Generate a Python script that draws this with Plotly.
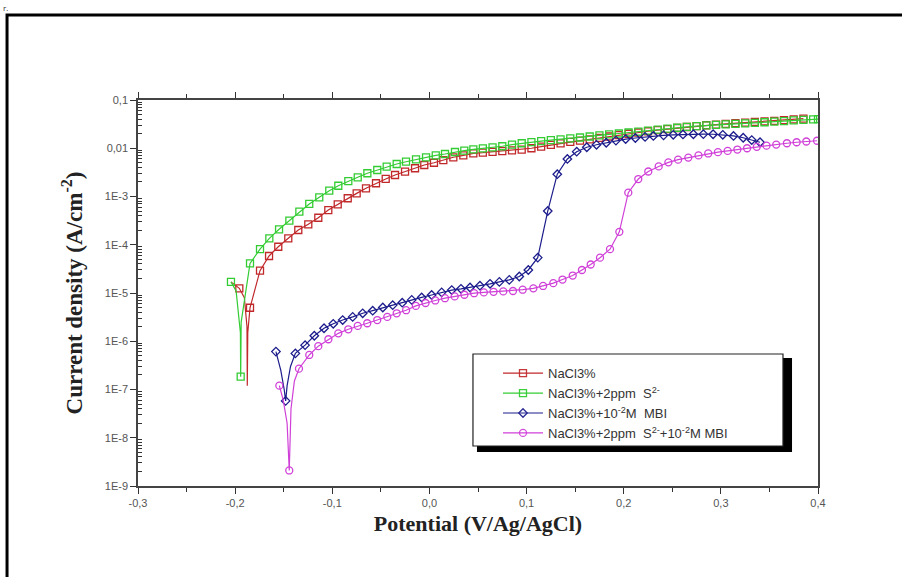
import plotly.graph_objects as go

# ---------------- data ----------------
nacl_E = [-0.2043, -0.1957, -0.1905, -0.1878, -0.1875, -0.1870, -0.1847, -0.1744, -0.1651, -0.1556,
          -0.1453, -0.135, -0.1247, -0.1144, -0.1041, -0.0944, -0.0841, -0.0749, -0.0653, -0.055,
          -0.045, -0.0354, -0.0251, -0.0148, -0.0053, 0.0047, 0.0143, 0.0246, 0.0349, 0.0452,
          0.055, 0.065, 0.075, 0.085, 0.095, 0.105, 0.115, 0.125, 0.135, 0.145, 0.155, 0.165,
          0.175, 0.185, 0.195, 0.205, 0.215, 0.225, 0.235, 0.245, 0.255, 0.265, 0.275, 0.285,
          0.295, 0.305, 0.315, 0.325, 0.335, 0.345, 0.355, 0.365, 0.375, 0.385]
nacl_I = [1.7e-5, 1.25e-5, 8e-6, 2e-6, 1.2e-7, 1.5e-6, 4.95e-6, 2.9e-5, 5.85e-5, 9.1e-5,
          1.36e-4, 2.02e-4, 2.65e-4, 3.63e-4, 5.24e-4, 6.9e-4, 9.2e-4, 1.16e-3, 1.48e-3, 1.88e-3,
          2.31e-3, 2.79e-3, 3.27e-3, 3.85e-3, 4.5e-3, 5.0e-3, 5.7e-3, 6.5e-3, 7.14e-3, 7.85e-3,
          8.1e-3, 8.4e-3, 8.7e-3, 9.0e-3, 9.4e-3, 1.0e-2, 1.08e-2, 1.17e-2, 1.26e-2, 1.35e-2, 1.44e-2, 1.53e-2,
          1.64e-2, 1.75e-2, 1.87e-2, 2.0e-2, 2.12e-2, 2.25e-2, 2.38e-2, 2.5e-2, 2.63e-2, 2.76e-2, 2.88e-2, 3.0e-2,
          3.1e-2, 3.2e-2, 3.3e-2, 3.4e-2, 3.5e-2, 3.6e-2, 3.7e-2, 3.82e-2, 3.95e-2, 4.1e-2]
nacl_show = [False, True, False, False, False, False] + [True] * 58

s_E = [-0.2043, -0.199, -0.1946, -0.1943, -0.1938, -0.1847, -0.1744, -0.1648, -0.1548, -0.1442,
       -0.1339, -0.1237, -0.1134, -0.1031, -0.0938, -0.0835, -0.0738, -0.0639, -0.0537, -0.044,
       -0.0337, -0.0241, -0.0138, -0.0035, 0.0065, 0.016, 0.0263, 0.0359, 0.0452,
       0.055, 0.065, 0.075, 0.085, 0.095, 0.105, 0.115, 0.125, 0.135, 0.145, 0.155, 0.165,
       0.175, 0.185, 0.195, 0.205, 0.215, 0.225, 0.235, 0.245, 0.255, 0.265, 0.275, 0.285,
       0.295, 0.305, 0.315, 0.325, 0.335, 0.345, 0.355, 0.365, 0.375, 0.385, 0.395, 0.40]
s_I = [1.7e-5, 1.1e-5, 1.5e-6, 1.84e-7, 2.5e-6, 4.1e-5, 8.1e-5, 1.36e-4, 2.09e-4, 3.16e-4,
       4.84e-4, 7.0e-4, 9.6e-4, 1.32e-3, 1.67e-3, 2.09e-3, 2.5e-3, 3.03e-3, 3.54e-3, 4.15e-3,
       4.72e-3, 5.26e-3, 5.9e-3, 6.5e-3, 7.14e-3, 7.6e-3, 8.36e-3, 8.9e-3, 9.5e-3,
       9.9e-3, 1.04e-2, 1.1e-2, 1.19e-2, 1.27e-2, 1.34e-2, 1.41e-2, 1.47e-2, 1.53e-2, 1.6e-2, 1.67e-2, 1.75e-2,
       1.84e-2, 1.93e-2, 2.02e-2, 2.12e-2, 2.22e-2, 2.32e-2, 2.44e-2, 2.55e-2, 2.66e-2, 2.77e-2, 2.87e-2, 2.97e-2,
       3.05e-2, 3.13e-2, 3.2e-2, 3.28e-2, 3.37e-2, 3.46e-2, 3.56e-2, 3.66e-2, 3.77e-2, 3.88e-2, 3.98e-2, 4.0e-2]
s_show = [True, False, False, True, False] + [True] * 60

mbi_E = [-0.158, -0.153, -0.1495, -0.148, -0.1465, -0.143, -0.138, -0.128, -0.1185, -0.1085,
         -0.099, -0.0893, -0.079, -0.0687, -0.0584, -0.048, -0.0378, -0.028, -0.0182, -0.008,
         0.0023, 0.0126, 0.023, 0.0325, 0.0418, 0.052, 0.0624, 0.072, 0.0822, 0.0925,
         0.1018, 0.1115, 0.1218, 0.1316, 0.142, 0.1516, 0.162, 0.172, 0.182, 0.192, 0.202,
         0.212, 0.222, 0.2305, 0.241, 0.251, 0.261, 0.2717, 0.282, 0.292, 0.302, 0.313,
         0.323, 0.3318, 0.3403]
mbi_I = [6.1e-7, 2.5e-7, 1.0e-7, 5.8e-8, 1.2e-7, 3.0e-7, 5.6e-7, 8.3e-7, 1.3e-6, 1.86e-6,
         2.3e-6, 2.75e-6, 3.2e-6, 3.8e-6, 4.3e-6, 5.0e-6, 5.6e-6, 6.3e-6, 7.2e-6, 8.1e-6,
         9.1e-6, 1.03e-5, 1.15e-5, 1.22e-5, 1.3e-5, 1.42e-5, 1.55e-5, 1.7e-5, 1.87e-5, 2.2e-5,
         3.0e-5, 5.4e-5, 5.0e-4, 2.9e-3, 6.0e-3, 8.5e-3, 1.05e-2, 1.18e-2, 1.3e-2, 1.44e-2, 1.55e-2,
         1.63e-2, 1.72e-2, 1.8e-2, 1.85e-2, 1.9e-2, 1.93e-2, 1.95e-2, 1.96e-2, 1.95e-2, 1.9e-2, 1.8e-2,
         1.65e-2, 1.48e-2, 1.33e-2]
mbi_show = [True, False, False, True, False, False] + [True] * 49

smbi_E = [-0.1545, -0.1505, -0.1465, -0.1443, -0.1425, -0.139, -0.1343, -0.1237, -0.1144, -0.104,
          -0.0938, -0.0835, -0.0738, -0.064, -0.0537, -0.0434, -0.0337, -0.024, -0.014, -0.004,
          0.006, 0.016, 0.026, 0.036, 0.046, 0.056, 0.066, 0.076, 0.086, 0.096, 0.107, 0.117,
          0.1275, 0.137, 0.1475, 0.157, 0.166, 0.1756, 0.1859, 0.1955, 0.2047, 0.215, 0.2253,
          0.236, 0.246, 0.256, 0.2665, 0.277, 0.287, 0.297, 0.307, 0.317, 0.327, 0.337, 0.347,
          0.357, 0.368, 0.378, 0.388, 0.399]
smbi_I = [1.2e-7, 6e-8, 2e-8, 2.1e-9, 4e-8, 1.5e-7, 2.7e-7, 5.2e-7, 7.9e-7, 1.1e-6,
          1.46e-6, 1.77e-6, 2.08e-6, 2.36e-6, 2.75e-6, 3.2e-6, 3.8e-6, 4.4e-6, 5.4e-6, 6.2e-6,
          7.0e-6, 7.8e-6, 8.5e-6, 9.2e-6, 9.9e-6, 1.03e-5, 1.06e-5, 1.08e-5, 1.1e-5, 1.17e-5, 1.25e-5, 1.4e-5,
          1.6e-5, 1.9e-5, 2.3e-5, 3.0e-5, 3.9e-5, 5.4e-5, 8.1e-5, 1.85e-4, 1.2e-3, 2.3e-3, 3.3e-3,
          4.2e-3, 5.1e-3, 5.8e-3, 6.4e-3, 7.1e-3, 7.8e-3, 8.3e-3, 8.8e-3, 9.4e-3, 1.0e-2, 1.07e-2, 1.13e-2,
          1.19e-2, 1.27e-2, 1.33e-2, 1.38e-2, 1.43e-2]
smbi_show = [True, False, False, True, False, False] + [True] * 54

series_names = ["NaCl3%",
                "NaCl3%+2ppm  S<sup>2-</sup>",
                "NaCl3%+10<sup>-2</sup>M  MBI",
                "NaCl3%+2ppm  S<sup>2-</sup>+10<sup>-2</sup>M MBI"]

y_tickvals = [1e-1, 1e-2, 1e-3, 1e-4, 1e-5, 1e-6, 1e-7, 1e-8, 1e-9]
y_ticktext = ["0,1", "0,01", "1E-3", "1E-4", "1E-5", "1E-6", "1E-7", "1E-8", "1E-9"]
x_tickvals = [-0.3, -0.2, -0.1, 0.0, 0.1, 0.2, 0.3, 0.4]
x_ticktext = ["-0,3", "-0,2", "-0,1", "0,0", "0,1", "0,2", "0,3", "0,4"]

# ---------------- figure ----------------
colors = ["#c0282a", "#33cc33", "#1c1c8c", "#d040d8"]
symbols = ["square-open", "square-open", "diamond-open", "circle-open"]
msizes = [7, 7, 6.5, 7]
data = [(nacl_E, nacl_I, nacl_show), (s_E, s_I, s_show),
        (mbi_E, mbi_I, mbi_show), (smbi_E, smbi_I, smbi_show)]

fig = go.Figure()
for (E, I, show), name, c, sym, ms in zip(data, series_names, colors, symbols, msizes):
    fig.add_trace(go.Scatter(
        x=E, y=I, name=name, mode="lines+markers",
        line=dict(color=c, width=1.2),
        marker=dict(symbol=sym, size=ms, color=c, line=dict(width=1.3, color=c),
                    opacity=[1 if s else 0 for s in show]),
    ))

minor_y = [m * 10.0 ** e for e in range(-9, -1) for m in range(2, 10)]

tick_font = dict(family="Arial, Liberation Sans, sans-serif", size=11, color="#555555")
serif = "Liberation Serif, Times New Roman, serif"

fig.update_layout(
    width=902, height=577,
    margin=dict(l=138, r=84, t=100, b=91),
    paper_bgcolor="white", plot_bgcolor="white",
    showlegend=True,
    legend=dict(x=0.5294, y=0.331, xanchor="left", yanchor="top",
                bgcolor="rgba(0,0,0,0)", borderwidth=0,
                font=dict(family="Arial, Liberation Sans, sans-serif", size=13, color="#333333"),
                tracegroupgap=0, itemwidth=40),
    xaxis=dict(
        range=[-0.3, 0.4], tickvals=x_tickvals, ticktext=x_ticktext,
        showgrid=False, zeroline=False,
        showline=True, linecolor="#444444", linewidth=1.5, mirror="ticks",
        ticks="outside", ticklen=6, tickwidth=1.3, tickcolor="#333333",
        minor=dict(dtick=0.05, ticks="outside", ticklen=4, tickwidth=1.2, tickcolor="#333333", showgrid=False),
        tickfont=tick_font,
        title=dict(text="<b>Potential (V/Ag/AgCl)</b>", font=dict(family=serif, size=22, color="#222222"), standoff=8),
    ),
    yaxis=dict(
        type="log", range=[-9, -1], tickvals=y_tickvals, ticktext=y_ticktext,
        showgrid=False, zeroline=False,
        showline=True, linecolor="#444444", linewidth=1.5, mirror=True,
        ticks="outside", ticklen=6, tickwidth=1.3, tickcolor="#333333",
        minor=dict(tickvals=minor_y, ticks="inside", ticklen=4, tickwidth=1, tickcolor="#333333", showgrid=False),
        tickfont=tick_font,
        title=dict(text="<b>Current density (A/cm<sup>-2</sup>)</b>", font=dict(family=serif, size=23, color="#222222"), standoff=16),
    ),
)

# legend box with shadow
fig.add_shape(type="rect", xref="paper", yref="paper", x0=0.4985, x1=0.9618, y0=0.0881, y1=0.3316,
              fillcolor="black", line=dict(width=0), layer="above")
fig.add_shape(type="rect", xref="paper", yref="paper", x0=0.4926, x1=0.9485, y0=0.1036, y1=0.3420,
              fillcolor="white", line=dict(color="#222222", width=1.2), layer="above")

# outer frame
fig.add_shape(type="rect", xref="paper", yref="paper", x0=-0.1926, x1=1.14, y0=-0.26, y1=1.2202,
              fillcolor="rgba(0,0,0,0)", line=dict(color="black", width=3), layer="above")

fig.add_annotation(text="r.", xref="paper", yref="paper", x=-0.2015, y=1.258, xanchor="left", yanchor="top",
                   showarrow=False, font=dict(size=8, color="#333333"))

fig.write_html("out.html", config={"displayModeBar": False},
               post_script="document.body.style.margin='0px';")
